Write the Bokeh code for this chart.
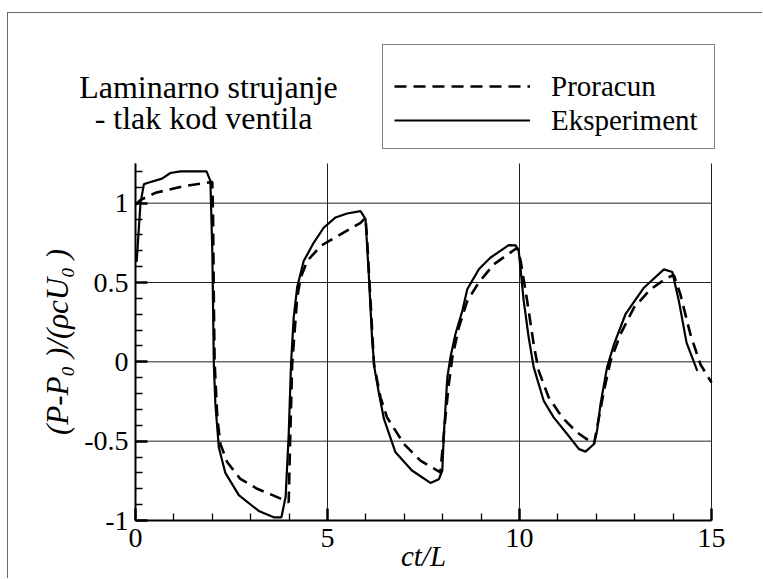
import numpy as np
from bokeh.plotting import figure
from bokeh.models import FixedTicker, Legend, LegendItem, Label, Range1d
from bokeh.embed import file_html
from bokeh.resources import INLINE

# ---- data ----
x_exp = [0.03, 0.13, 0.22, 0.35, 0.69, 0.91, 1.17, 1.85, 1.95, 2.0, 2.04, 2.08, 2.17, 2.34,
         2.69, 3.21, 3.6, 3.8, 3.91, 3.99, 4.05, 4.12, 4.21, 4.38, 4.64, 4.9, 5.21, 5.51,
         5.86, 5.99, 6.08, 6.16, 6.22, 6.34, 6.47, 6.77, 7.2, 7.68, 7.9, 7.99, 8.03, 8.12,
         8.2, 8.33, 8.51, 8.64, 8.94, 9.24, 9.72, 9.9, 9.98, 10.11, 10.24, 10.37, 10.63,
         10.89, 11.24, 11.55, 11.72, 11.94, 12.02, 12.11, 12.28, 12.46, 12.76, 13.24, 13.76,
         13.98, 14.15, 14.35, 14.63]
y_exp = [0.63, 1.0, 1.12, 1.13, 1.155, 1.19, 1.2, 1.2, 1.14, 0.70, -0.015, -0.265, -0.54, -0.70,
         -0.84, -0.94, -0.98, -0.98, -0.85, -0.455, -0.015, 0.28, 0.47, 0.635, 0.75, 0.845, 0.91, 0.935,
         0.95, 0.90, 0.53, 0.15, -0.035, -0.2, -0.36, -0.57, -0.685, -0.763, -0.74, -0.685, -0.455, -0.1,
         0.027, 0.174, 0.32, 0.457, 0.583, 0.656, 0.736, 0.734, 0.70, 0.384, 0.153, -0.035, -0.245,
         -0.35, -0.455, -0.55, -0.566, -0.518, -0.434, -0.266, -0.035, 0.11, 0.30, 0.467, 0.583,
         0.566, 0.384, 0.121, -0.057]

x_calc = [0.0, 0.13, 0.52, 1.26, 2.0, 2.02, 2.04, 2.06, 2.13, 2.21, 2.39, 2.73, 3.17, 3.6, 3.99,
          4.02, 4.08, 4.21, 4.3, 4.47, 4.82, 5.34, 5.86, 5.99, 6.03, 6.12, 6.21, 6.38, 6.55, 6.99,
          7.42, 7.94, 8.07, 8.16, 8.25, 8.42, 8.64, 8.94, 9.33, 9.94, 10.03, 10.2, 10.37, 10.5,
          10.76, 11.11, 11.5, 11.94, 12.07, 12.2, 12.37, 12.63, 12.98, 13.41, 13.85, 14.02, 14.19,
          14.45, 14.71, 15.0]
y_calc = [0.99, 1.02, 1.065, 1.107, 1.134, 0.91, 0.384, 0.0, -0.35, -0.518, -0.633, -0.738, -0.80, -0.843, -0.885,
          -0.56, -0.015, 0.404, 0.53, 0.635, 0.73, 0.803, 0.876, 0.908, 0.78, 0.384, -0.015, -0.224, -0.35, -0.518,
          -0.623, -0.696, -0.35, -0.14, 0.027, 0.216, 0.384, 0.50, 0.614, 0.719, 0.635, 0.384, 0.11, -0.057,
          -0.224, -0.35, -0.445, -0.518, -0.35, -0.182, 0.006, 0.174, 0.342, 0.457, 0.53, 0.547, 0.425,
          0.174, -0.015, -0.13]

x_ticks = [0, 5, 10, 15]
x_tick_labels = ["0", "5", "10", "15"]
y_ticks = [-1, -0.5, 0, 0.5, 1]
y_tick_labels = ["-1", "-0.5", "0", "0.5", "1"]
x_minor = [1, 2, 3, 4, 6, 7, 8, 9, 11, 12, 13, 14]
y_minor = [-0.9, -0.8, -0.7, -0.6, -0.4, -0.3, -0.2, -0.1, 0.1, 0.2, 0.3, 0.4,
           0.6, 0.7, 0.8, 0.9, 1.1, 1.2]
x_lim = (0, 15)
y_lim = (-1, 1.25)

series_names = ["Proracun", "Eksperiment"]
title_lines = ["Laminarno strujanje", "- tlak kod ventila"]
x_label = "ct/L"
y_label = "(P-P\u2080 )/(\u03c1cU\u2080 )"

FONT = "Liberation Serif"

# ---- layout (pixels on the canvas; canvas starts at page (8, 13)) ----
W, H = 755, 566
PLOT_L, PLOT_R = 127, 703      # data area left/right edge on canvas
PLOT_T, PLOT_B = 150, 507      # data area top/bottom edge on canvas
sx = (PLOT_R - PLOT_L) / (x_lim[1] - x_lim[0])
sy = (PLOT_B - PLOT_T) / (y_lim[1] - y_lim[0])
x_range = Range1d(x_lim[0] - PLOT_L / sx, x_lim[1] + (W - PLOT_R) / sx)
y_range = Range1d(y_lim[0] - (H - PLOT_B) / sy, y_lim[1] + PLOT_T / sy)

p = figure(width=W, height=H, x_range=x_range, y_range=y_range, title=None,
           output_backend="svg", toolbar_location=None,
           min_border=0, min_border_left=0, min_border_right=0,
           min_border_top=0, min_border_bottom=0)
p.outline_line_color = None
p.background_fill_color = "white"
p.border_fill_color = "white"
p.grid.visible = False
p.styles = {"border-left": "1px solid #666", "border-top": "1px solid #666",
            "margin-top": "12px", "margin-left": "7px"}

# grid lines, limited to the data area
n_x, n_y = len(x_ticks), len(y_ticks)
p.segment(x0=x_ticks, y0=[y_lim[0]] * n_x, x1=x_ticks, y1=[y_lim[1]] * n_x,
          line_color="#222222", line_width=1)
p.segment(x0=[x_lim[0]] * n_y, y0=y_ticks, x1=[x_lim[1]] * n_y, y1=y_ticks,
          line_color="#222222", line_width=1)

# axes, placed inside the frame at the data edges
p.xaxis.fixed_location = y_lim[0]
p.yaxis.fixed_location = x_lim[0]
p.xaxis.bounds = x_lim
p.yaxis.bounds = y_lim

for ax, ticks, minor, labels in ((p.xaxis[0], x_ticks, x_minor, x_tick_labels),
                                 (p.yaxis[0], y_ticks, y_minor, y_tick_labels)):
    ax.ticker = FixedTicker(ticks=ticks, minor_ticks=minor)
    ax.major_label_overrides = {t: l for t, l in zip(ticks, labels)}
    ax.axis_line_width = 2
    ax.axis_line_color = "black"
    ax.major_tick_in = 12
    ax.major_tick_out = 0
    ax.minor_tick_in = 7
    ax.minor_tick_out = 0
    ax.major_tick_line_width = 2.5
    ax.minor_tick_line_width = 1.3
    ax.major_tick_line_color = "black"
    ax.minor_tick_line_color = "black"
    ax.major_label_text_font = FONT
    ax.major_label_text_font_size = "28px"
    ax.major_label_text_color = "black"

p.xaxis.major_label_standoff = 8
p.yaxis.major_label_standoff = 7

p.xaxis.axis_label = x_label
p.xaxis.axis_label_text_font = FONT
p.xaxis.axis_label_text_font_style = "italic"
p.xaxis.axis_label_text_font_size = "29px"
p.xaxis.axis_label_standoff = -10
p.xaxis.axis_label_text_color = "black"

p.yaxis.axis_label = y_label
p.yaxis.axis_label_text_font = FONT
p.yaxis.axis_label_text_font_style = "italic"
p.yaxis.axis_label_text_font_size = "31px"
p.yaxis.axis_label_standoff = 6
p.yaxis.axis_label_text_color = "black"

r_calc = p.line(x_calc, y_calc, line_color="black", line_width=2.6, line_dash="12 7")
r_exp = p.line(x_exp, y_exp, line_color="black", line_width=2.2)

TOP = 13  # page y of the canvas top
legend = Legend(items=[LegendItem(label=series_names[0], renderers=[r_calc]),
                       LegendItem(label=series_names[1], renderers=[r_exp])],
                location=(374, H - (149 - TOP)), orientation="vertical",
                title=" ", title_text_font_size="10px", title_standoff=2,
                padding=11, margin=0, spacing=0,
                glyph_width=136, glyph_height=34, label_height=34, label_width=152,
                label_standoff=21,
                label_text_font=FONT, label_text_font_size="29px", label_text_color="black",
                label_text_baseline="middle",
                border_line_color="black", border_line_width=1.5,
                background_fill_color="white", background_fill_alpha=1.0)
p.add_layout(legend, "center")

for txt, cx, base in ((title_lines[0], 200, 86), (title_lines[1], 195, 117)):
    p.add_layout(Label(x=cx, y=H - (base - TOP), x_units="screen", y_units="screen", text=txt,
                       text_font=FONT, text_font_size="32px", text_color="black",
                       text_align="center", text_baseline="alphabetic"))

open("out.html", "w").write(file_html(p, INLINE))
